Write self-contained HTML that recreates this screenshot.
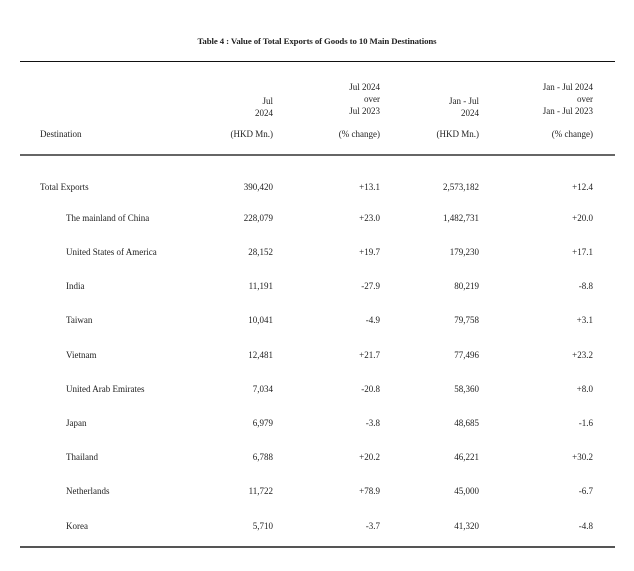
<!DOCTYPE html>
<html><head><meta charset="utf-8"><style>
body{margin:0;width:634px;height:571px;background:#fff;position:relative;overflow:hidden;font-family:"Liberation Serif",serif;font-size:9px;color:#222}
.t{position:absolute;white-space:nowrap;line-height:12px}
.r{text-align:right}
.rule{position:absolute;left:20px;width:595px}
</style></head><body>
<div class="t" style="left:0;width:634px;text-align:center;top:35px;font-weight:bold;font-size:8.8px;letter-spacing:-0.1px">Table 4 : Value of Total Exports of Goods to 10 Main Destinations</div>
<div class="rule" style="top:61px;height:1px;background:#111"></div>
<div class="rule" style="top:154px;height:2px;background:#666"></div>
<div class="rule" style="top:546px;height:2px;background:#555"></div>
<div class="t" style="left:40px;top:128px">Destination</div>
<div class="t r" style="right:361px;top:95px">Jul<br>2024</div>
<div class="t r" style="right:254px;top:81px">Jul 2024<br>over<br>Jul 2023</div>
<div class="t r" style="right:155px;top:95px">Jan - Jul<br>2024</div>
<div class="t r" style="right:41px;top:81px">Jan - Jul 2024<br>over<br>Jan - Jul 2023</div>
<div class="t r" style="right:361px;top:128px">(HKD Mn.)</div>
<div class="t r" style="right:254px;top:128px">(% change)</div>
<div class="t r" style="right:155px;top:128px">(HKD Mn.)</div>
<div class="t r" style="right:41px;top:128px">(% change)</div>
<div id="rows"></div>
<script>
const names=["Total Exports","The mainland of China","United States of America","India","Taiwan","Vietnam","United Arab Emirates","Japan","Thailand","Netherlands","Korea"];
const julVal=["390,420","228,079","28,152","11,191","10,041","12,481","7,034","6,979","6,788","11,722","5,710"];
const julChg=["+13.1","+23.0","+19.7","-27.9","-4.9","+21.7","-20.8","-3.8","+20.2","+78.9","-3.7"];
const ytdVal=["2,573,182","1,482,731","179,230","80,219","79,758","77,496","58,360","48,685","46,221","45,000","41,320"];
const ytdChg=["+12.4","+20.0","+17.1","-8.8","+3.1","+23.2","+8.0","-1.6","+30.2","-6.7","-4.8"];
const tops=[181,212,246,280,314,349,383,417,451,485,520];
const host=document.getElementById('rows');
names.forEach((n,i)=>{
  const mk=(txt,style,nm)=>{const d=document.createElement('div');d.className='t';d.style.cssText=style+';top:'+tops[i]+'px';d.textContent=txt;
  
  
  host.appendChild(d);};
  mk(n,'left:'+(i===0?40:66)+'px','row-name');
  mk(julVal[i],'right:361px','cell-jul-value');
  mk(julChg[i],'right:254px','cell-jul-change');
  mk(ytdVal[i],'right:155px','cell-ytd-value');
  mk(ytdChg[i],'right:41px','cell-ytd-change');
});
</script>
</body></html>
